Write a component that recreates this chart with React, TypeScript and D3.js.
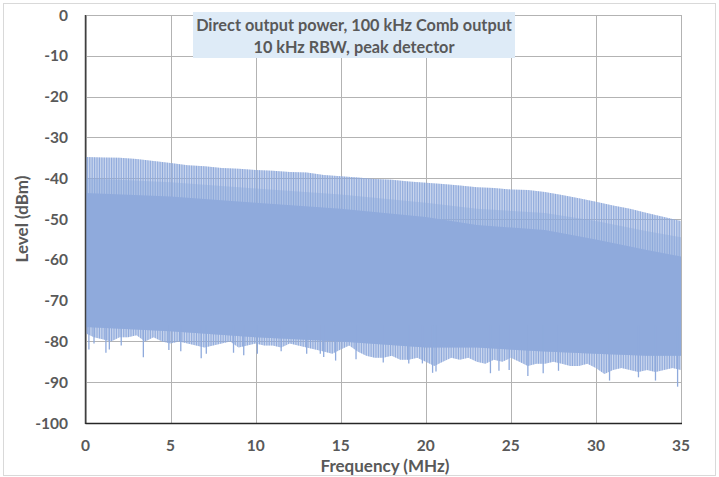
import { useMemo } from 'react'
import { line, scaleLinear } from 'd3'

// Comb generator spectrum: 100 kHz comb, 10 kHz RBW, peak detector.
// Values (dBm).

const envFreqMHz = [
  0, 1, 2, 3, 4, 5, 6, 7, 8, 9, 10, 11, 12, 13, 14, 15, 16, 17, 18, 19, 20, 21, 22, 23, 24, 25, 26,
  27, 28, 29, 30, 31, 32, 33, 34, 35,
]
// peak of each comb line (upper envelope)
const peakDbm = [
  -34.8, -34.9, -35.0, -35.3, -35.8, -36.3, -36.8, -37.1, -37.5, -37.7, -38.0, -38.2, -38.5, -38.6,
  -39.2, -39.5, -39.8, -40.2, -40.4, -40.8, -41.1, -41.4, -41.8, -42.2, -42.4, -42.8, -42.9, -43.4,
  -44.1, -44.9, -45.8, -46.7, -47.5, -48.5, -49.5, -50.5,
]

// where the lines thicken, and where they merge into a solid fill
const solidFreqMHz = [0, 5, 10, 15, 20, 23, 27, 30, 33, 35]
const midTopDbm = [-40, -41, -42.5, -44, -46, -47.5, -48.5, -50.5, -53, -54.5]
const solidTopDbm = [-43.6, -44.5, -46.0, -47.5, -49.5, -51.5, -52.7, -55.0, -57.6, -59.2]
const solidBottomDbm = [-76.5, -77.5, -79, -80, -81.5, -81.5, -82.5, -83, -83.5, -83.5]

// typical trough tips, 0.5 MHz steps
const floorFreqMHz = [
  0, 0.5, 1, 1.5, 2, 2.5, 3, 3.5, 4, 4.5, 5, 5.5, 6, 6.5, 7, 7.5, 8, 8.5, 9, 9.5, 10, 10.5, 11, 11.5,
  12, 12.5, 13, 13.5, 14, 14.5, 15, 15.5, 16, 16.5, 17, 17.5, 18, 18.5, 19, 19.5, 20, 20.5, 21, 21.5,
  22, 22.5, 23, 23.5, 24, 24.5, 25, 25.5, 26, 26.5, 27, 27.5, 28, 28.5, 29, 29.5, 30, 30.5, 31, 31.5,
  32, 32.5, 33, 33.5, 34, 34.5, 35,
]
const floorDbm = [
  -78, -79, -79.5, -80, -79, -79, -78.5, -80, -79, -80, -80.5, -80, -80.5, -81, -81.5, -81, -80.5,
  -80, -81.5, -81, -80.5, -81, -81, -81.5, -80.5, -81, -81.5, -82, -82.5, -83, -82, -81, -82.5,
  -83.5, -84, -84, -83.5, -84.5, -84.5, -84, -85, -86, -85, -84, -84.5, -84, -85, -85.5, -84.5, -85,
  -84, -85, -86, -85.5, -85.5, -85, -85.5, -86, -86, -85.5, -86.5, -88, -87, -86.5, -87, -87.5, -87,
  -87.5, -87, -86.5, -87,
]

// deepest individual troughs
const spikeFreqMHz = [
  0.2, 0.5, 1.2, 1.4, 2.1, 3.4, 4.9, 5.6, 6.8, 7.1, 8.7, 9.3, 10.1, 11.5, 13.0, 13.8, 14.0, 14.7,
  15.9, 17.5, 19.0, 19.8, 20.4, 20.6, 23.8, 24.3, 24.9, 26.0, 26.9, 27.8, 30.8, 32.5, 33.5, 34.8,
]
const spikeDbm = [
  -82, -80.5, -82.8, -82, -81, -83.9, -82.1, -82.4, -84.1, -83, -82.8, -83.4, -83, -82.4, -83, -83,
  -83.8, -84.7, -84.4, -85.2, -85.4, -85.4, -87.7, -87.4, -87.8, -87.2, -87, -88.5, -87.8, -87.2,
  -89.6, -88.8, -89.6, -91.1,
]

const xTicks = [0, 5, 10, 15, 20, 25, 30, 35]
const yTicks = [0, -10, -20, -30, -40, -50, -60, -70, -80, -90, -100]
const COMB_STEP_MHZ = 0.1

const W = 719
const H = 477
const PLOT = { left: 85.5, right: 681, top: 15, bottom: 423 }
const BLUE = '#8faadc'
const GRID = '#b3b3b3'
const TEXT = '#595959'
const FONT = 'Lato, "Open Sans", sans-serif'

// closed band between two curves sharing the x scale
function band(
  pts: (v: number[]) => string | null,
  fTop: number[],
  vTop: number[],
  fBot: number[],
  vBot: number[],
) {
  const top = pts(fTop.map((f, i) => [f, vTop[i]]).flat()) ?? ''
  const botPairs = fBot.map((f, i) => [f, vBot[i]]).reverse()
  const bot = (pts(botPairs.flat()) ?? '').replace(/^M/, 'L')
  return `${top}${bot}Z`
}

export default function App() {
  const x = useMemo(() => scaleLinear().domain([0, 35]).range([PLOT.left, PLOT.right]), [])
  const y = useMemo(() => scaleLinear().domain([0, -100]).range([PLOT.top, PLOT.bottom]), [])

  const pts = (flat: number[]) => {
    const pairs: [number, number][] = []
    for (let i = 0; i < flat.length; i += 2) pairs.push([flat[i], flat[i + 1]])
    return line<[number, number]>()
      .x((d) => x(d[0]))
      .y((d) => y(d[1]))(pairs)
  }

  const combPath = band(pts, envFreqMHz, peakDbm, floorFreqMHz, floorDbm)
  const midPath = band(pts, solidFreqMHz, midTopDbm, solidFreqMHz, solidBottomDbm)
  const solidPath = band(pts, solidFreqMHz, solidTopDbm, solidFreqMHz, solidBottomDbm)
  const combW = x(COMB_STEP_MHZ) - x(0)

  return (
    <svg width={W} height={H} style={{ position: 'absolute', left: 0, top: 0 }} fontFamily={FONT}>
      <defs>
        <pattern id="comb" patternUnits="userSpaceOnUse" x={x(0)} y={0} width={combW} height={H}>
          <rect x={0} y={0} width={combW * 0.6} height={H} fill={BLUE} />
        </pattern>
        <clipPath id="plot">
          <rect x={PLOT.left} y={PLOT.top - 1} width={PLOT.right - PLOT.left + 1} height={PLOT.bottom - PLOT.top + 1} />
        </clipPath>
      </defs>
      <rect x={0} y={0} width={W} height={H} fill="#fff" />
      <rect x={3.5} y={3.5} width={712} height={472} fill="none" stroke="#d9d9d9" strokeWidth={1} />

      {/* grid */}
      {yTicks.map((t) => (
        <line key={`gy${t}`} x1={PLOT.left} x2={PLOT.right} y1={Math.round(y(t)) + 0.5} y2={Math.round(y(t)) + 0.5} stroke={GRID} strokeWidth={1} />
      ))}
      {xTicks.map((t) => (
        <line key={`gx${t}`} x1={Math.round(x(t)) + 0.5} x2={Math.round(x(t)) + 0.5} y1={PLOT.top} y2={PLOT.bottom} stroke={GRID} strokeWidth={1} />
      ))}

      {/* spectrum */}
      <g clipPath="url(#plot)">
        <path d={combPath} fill="url(#comb)" />
        <path d={combPath} fill={BLUE} opacity={0.3} />
        <path d={midPath} fill={BLUE} opacity={0.45} />
        <path d={solidPath} fill={BLUE} />
        {spikeFreqMHz.map((f, i) => (
          <line key={`s${i}`} x1={x(f)} x2={x(f)} y1={y(-76)} y2={y(spikeDbm[i])} stroke={BLUE} strokeWidth={1.3} />
        ))}
      </g>

      {/* axes */}
      <line x1={PLOT.left} x2={PLOT.left} y1={PLOT.top} y2={PLOT.bottom + 1} stroke="#404040" strokeWidth={1.5} />
      <line x1={PLOT.left} x2={PLOT.right + 1} y1={PLOT.bottom + 0.5} y2={PLOT.bottom + 0.5} stroke="#262626" strokeWidth={1.5} />

      {/* tick labels */}
      {yTicks.map((t) => (
        <text key={`ly${t}`} x={68} y={y(t)} dy="0.36em" textAnchor="end" fontSize={15.5} fontWeight={700} fill={TEXT}>
          {t}
        </text>
      ))}
      {xTicks.map((t) => (
        <text key={`lx${t}`} x={x(t)} y={445} dy="0.36em" textAnchor="middle" fontSize={15.5} fontWeight={700} fill={TEXT}>
          {t}
        </text>
      ))}

      {/* axis titles */}
      <text x={385} y={466} dy="0.36em" textAnchor="middle" fontSize={17} fontWeight={700} fill={TEXT}>
        Frequency (MHz)
      </text>
      <text transform="translate(22,219) rotate(-90)" dy="0.36em" textAnchor="middle" fontSize={17} fontWeight={700} fill={TEXT}>
        Level (dBm)
      </text>

      {/* title box */}
      <rect x={193} y={12} width={322} height={46} fill="#deebf7" />
      <text x={354} y={31} textAnchor="middle" fontSize={16.3} fontWeight={700} fill={TEXT}>
        Direct output power, 100 kHz Comb output
      </text>
      <text x={354} y={52.5} textAnchor="middle" fontSize={16.3} fontWeight={700} fill={TEXT}>
        10 kHz RBW, peak detector
      </text>
    </svg>
  )
}
